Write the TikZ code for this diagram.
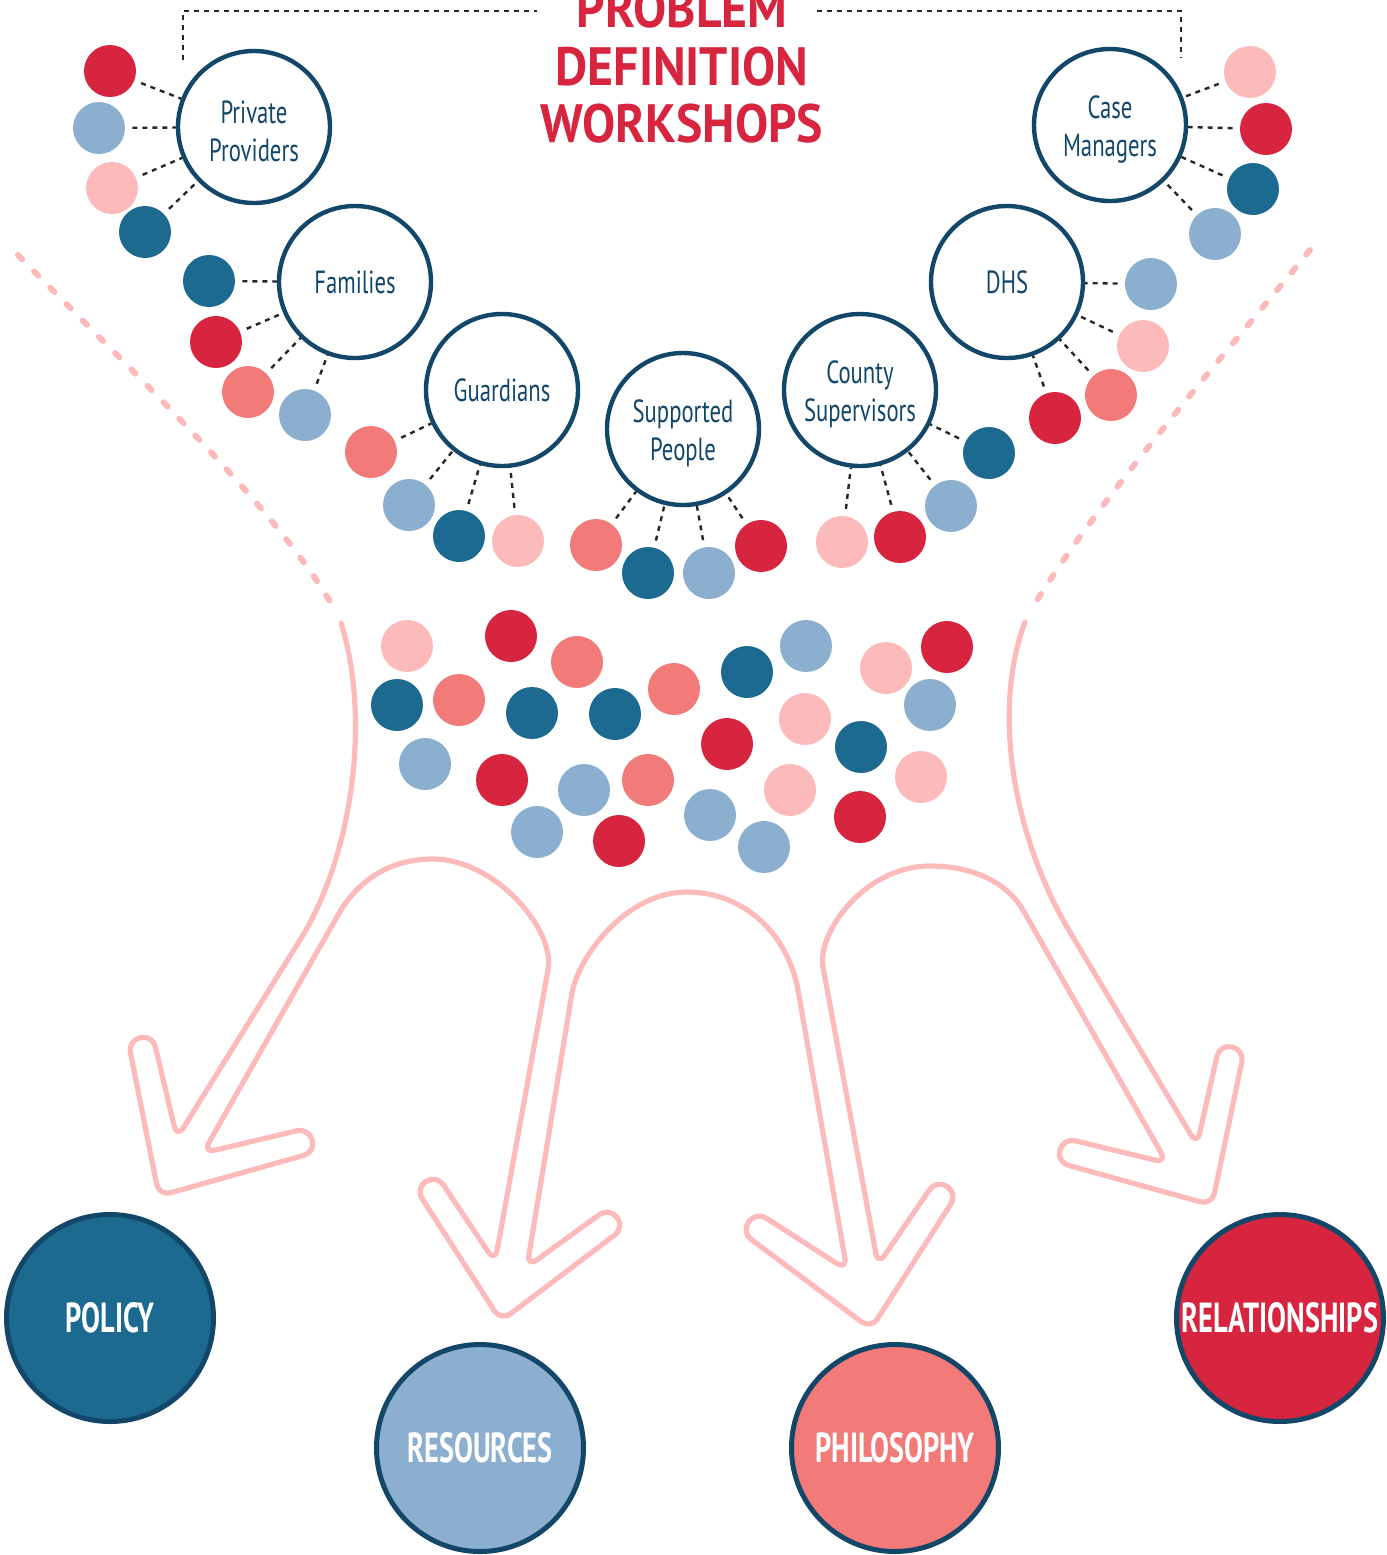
\documentclass[tikz,border=0pt]{standalone}
\usepackage{fontspec}
\setmainfont{PT Sans}
\newfontfamily\narrowfont{PT Sans}[FakeStretch=0.71]
\newfontfamily\labelfont{PT Sans}[FakeStretch=0.675]
\newfontfamily\titlefont{PT Sans}[FakeStretch=0.92]
\newcommand{\tallstrut}{\rule{0pt}{16pt}}

\definecolor{cred}{HTML}{D7243F}
\definecolor{clblue}{HTML}{8CAFD0}
\definecolor{cpink}{HTML}{FDBABB}
\definecolor{cteal}{HTML}{1D6A91}
\definecolor{csalmon}{HTML}{F27B79}
\definecolor{cnavy}{HTML}{13476A}

\tikzset{
    group/.style={circle, draw=cnavy, line width=2.2pt, fill=white, minimum size=76pt,
        inner sep=0pt, align=center, text=cnavy, font=\narrowfont\fontsize{16}{19}\selectfont},
    dot/.style={circle, fill=#1, minimum size=26pt, inner sep=0pt},
    link/.style={draw=black!85, line width=1.2pt, dash pattern=on 2.5pt off 2.5pt, shorten <=3.5pt},
    bracket/.style={draw=black!85, line width=1.2pt, dash pattern=on 2.5pt off 2.5pt},
    outcome/.style={circle, draw=cnavy, line width=2.5pt, fill=#1, minimum size=103.5pt,
        inner sep=0pt, text=white, font=\labelfont\bfseries\fontsize{21}{24}\selectfont},
    flow/.style={draw=cpink, line width=2.6pt, line cap=round, line join=round},
    funnel/.style={draw=cpink, line width=3pt, line cap=round, dash pattern=on 3pt off 8.5pt},
    title/.style={anchor=base, text=cred, font=\titlefont\bfseries\fontsize{27}{29}\selectfont}
}

\begin{document}
\begin{tikzpicture}[x=0.5pt, y=-0.5pt]
        \useasboundingbox (0,0) rectangle (1387,1555);

        % funnel and arrows
        \draw[funnel] (18,255) .. controls (130,370) and (280,510) .. (336,612);
        \draw[funnel] (1310,250) .. controls (1220,360) and (1090,510) .. (1030,612);
        \draw[flow] (341,623) .. controls (371,718) and (353,855) .. (300,940);
        \draw[flow, rounded corners=6pt] (300,940) -- (177,1138) -- (152.6,1035) -- (128,1040.4)
            -- (159,1196) -- (315.6,1152.1) -- (308.6,1127.9) -- (203,1153) -- (338,915);
        \draw[flow] (338,915) .. controls (355,885) and (385,859) .. (433,859)
            .. controls (495,859) and (556,930) .. (548,970);
        \draw[flow, rounded corners=6pt] (548,970) -- (495,1262) -- (436.5,1174.6) -- (415.5,1188.4)
            -- (501,1321) -- (624.6,1227.4) -- (609.4,1207.4) -- (527,1267) -- (572,993);
        \draw[flow] (572,993) .. controls (578,958) and (625,892) .. (687,892)
            .. controls (745,892) and (788,935) .. (798,990);
        \draw[flow, rounded corners=6pt] (798,990) -- (847,1270) -- (755.9,1211.5) -- (741.5,1232.1)
            -- (871,1329) -- (957.5,1193.5) -- (936.5,1179.5) -- (878,1265) -- (823,967);
        \draw[flow] (823,967) .. controls (817,932) and (865,866) .. (930,866)
            .. controls (970,866) and (1005,880) .. (1023,910);
        \draw[flow, rounded corners=6pt] (1023,910) -- (1167,1163) -- (1063.4,1137.9) -- (1056.6,1162.1)
            -- (1212,1205) -- (1244.3,1049.8) -- (1219.7,1044.2) -- (1197,1145) -- (1067,927);
        \draw[flow] (1067,927) .. controls (1017,841) and (990,716) .. (1025,622);

        % title
        \node[title] (t1) at (682,27) {PROBLEM};
        \node[title] (t2) at (682,85) {DEFINITION};
        \node[title] (t3) at (682,142) {WORKSHOPS};

        % stakeholder groups
        \node[group] (pp) at (254,127) {\tallstrut Private\\Providers};
        \node[group] (cm) at (1110,125) {\tallstrut Case\\Managers};
        \node[group] (fam) at (355,282) {Families};
        \node[group] (dhs) at (1007,282) {DHS};
        \node[group] (gua) at (502,390) {Guardians};
        \node[group] (cs) at (860,390) {\tallstrut County\\Supervisors};
        \node[group] (sp) at (683,429) {\tallstrut Supported\\People};

        \coordinate (brA) at (183,60);
        \coordinate (brB) at (537,11);
        \coordinate (brC) at (817,11);
        \coordinate (brD) at (1181,58);
        \draw[bracket] (brA) |- (brB);
        \draw[bracket] (brC) -| (brD);

        \foreach \c/\x/\y [count=\i] in {cred/110/71, clblue/99/128, cpink/112/188, cteal/145/232} {
            \node[dot=\c] (pp\i) at (\x,\y) {};
            \draw[link] (pp\i) -- (pp);
        }
        \foreach \c/\x/\y [count=\i] in {cpink/1250/72, cred/1266/129, cteal/1253/189, clblue/1215/234} {
            \node[dot=\c] (cm\i) at (\x,\y) {};
            \draw[link] (cm\i) -- (cm);
        }
        \foreach \c/\x/\y [count=\i] in {cteal/209/281, cred/216/342, csalmon/248/392, clblue/305/415} {
            \node[dot=\c] (fam\i) at (\x,\y) {};
            \draw[link] (fam\i) -- (fam);
        }
        \foreach \c/\x/\y [count=\i] in {clblue/1151/284, cpink/1143/346, csalmon/1111/395, cred/1055/418} {
            \node[dot=\c] (dhs\i) at (\x,\y) {};
            \draw[link] (dhs\i) -- (dhs);
        }
        \foreach \c/\x/\y [count=\i] in {csalmon/371/452, clblue/409/505, cteal/459/536, cpink/518/541} {
            \node[dot=\c] (gua\i) at (\x,\y) {};
            \draw[link] (gua\i) -- (gua);
        }
        \foreach \c/\x/\y [count=\i] in {cteal/989/453, clblue/951/506, cred/900/537, cpink/842/542} {
            \node[dot=\c] (cs\i) at (\x,\y) {};
            \draw[link] (cs\i) -- (cs);
        }
        \foreach \c/\x/\y [count=\i] in {csalmon/596/545, cteal/648/573, clblue/709/573, cred/761/546} {
            \node[dot=\c] (sp\i) at (\x,\y) {};
            \draw[link] (sp\i) -- (sp);
        }

        % mixed ideas
        \foreach \c/\x/\y [count=\i] in {cpink/407/646, cred/511/636, csalmon/577/662, csalmon/674/689,
            cteal/747/672, clblue/806/646, cpink/886/668, cred/947/647, cteal/397/705, csalmon/459/700,
            cteal/532/713, cteal/615/714, cred/727/744, cpink/805/719, cteal/861/747, clblue/930/705,
            clblue/425/764, cred/502/780, clblue/584/790, csalmon/648/780, clblue/710/815, cpink/790/790,
            cpink/921/777, cred/860/817, clblue/537/832, cred/619/841, clblue/764/847}
            \node[dot=\c] (mix\i) at (\x,\y) {};

        % outcomes
        \node[outcome=cteal] (policy) at (110,1318) {POLICY};
        \node[outcome=clblue] (resources) at (480,1448) {RESOURCES};
        \node[outcome=csalmon] (philosophy) at (895,1448) {PHILOSOPHY};
        \node[outcome=cred] (relations) at (1280,1318) {RELATIONSHIPS};
    \end{tikzpicture}
\end{document}
